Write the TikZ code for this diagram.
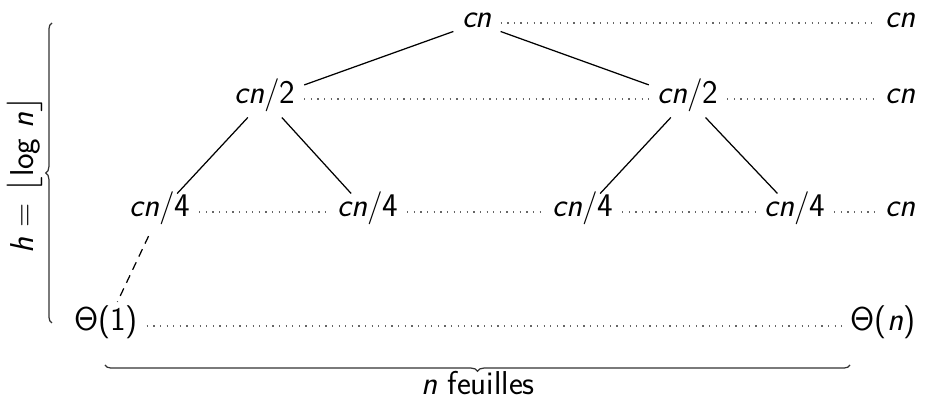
\documentclass[tikz,border=0pt]{standalone}
\usepackage{fontspec}
\usetikzlibrary{decorations.pathreplacing, calc}
\tikzset{
	cost/.style={inner sep=4pt, text height=0.7em, text depth=0.25em, font=\sffamily\fontsize{16}{19}\selectfont},
	rowcost/.style={cost, anchor=east},
	branch/.style={line width=0.6pt, draw=black},
	skip/.style={line width=0.6pt, draw=black, dash pattern=on 4pt off 3pt, shorten <=3pt, shorten >=3pt},
	level/.style={line width=0.6pt, draw=black!60, dash pattern=on 0.6pt off 2.6pt},
	bracket/.style={line width=0.6pt, draw=black!80, decorate, decoration={brace, amplitude=3pt}},
}

\begin{document}
\begin{tikzpicture}
		\useasboundingbox (0,0) rectangle (15.878,-6.783);
		% the tree
		\node[cost] (root) at (8.109,-0.391) {\textit{cn}};
		\node[cost] (l) at (4.505,-1.683) {\textit{cn}/2};
		\node[cost] (r) at (11.696,-1.683) {\textit{cn}/2};
		\node[cost] (ll) at (2.72,-3.604) {\textit{cn}/4};
		\node[cost] (lr) at (6.256,-3.604) {\textit{cn}/4};
		\node[cost] (rl) at (9.911,-3.604) {\textit{cn}/4};
		\node[cost] (rr) at (13.515,-3.604) {\textit{cn}/4};
		\node[cost] (leaf) at (1.802,-5.542) {Θ(1)};
		% cost of each level
		\node[rowcost] (sum0) at (15.708,-0.391) {\textit{cn}};
		\node[rowcost] (sum1) at (15.708,-1.683) {\textit{cn}};
		\node[rowcost] (sum2) at (15.708,-3.604) {\textit{cn}};
		\node[rowcost] (sumh) at (15.708,-5.542) {Θ(\textit{n})};
		\draw[branch] (root) -- (l);
		\draw[branch] (root) -- (r);
		\draw[branch] (l) -- (ll);
		\draw[branch] (l) -- (lr);
		\draw[branch] (r) -- (rl);
		\draw[branch] (r) -- (rr);
		\draw[skip] (ll) -- (leaf);
		\draw[level] (root) -- (sum0);
		\draw[level] (l) -- (r);
		\draw[level] (r) -- (sum1);
		\draw[level] (ll) -- (lr);
		\draw[level] (lr) -- (rl);
		\draw[level] (rl) -- (rr);
		\draw[level] (rr) -- (sum2);
		\draw[level] (leaf) -- (sumh);
		% height and leaves
		\coordinate (htop) at (0.884,-0.391);
		\coordinate (hbot) at (0.884,-5.491);
		\coordinate (fl) at (1.785,-6.205);
		\coordinate (fr) at (14.45,-6.205);
		\draw[bracket] (hbot) -- (htop);
		\draw[bracket] (fr) -- (fl);
		\node[cost, rotate=90] (height) at (0.49,-2.975) {\textit{h} = $\lfloor$log \textit{n}$\rfloor$};
		\node[cost] (leaves) at (8.126,-6.62) {\textit{n} feuilles};
	\end{tikzpicture}
\end{document}
